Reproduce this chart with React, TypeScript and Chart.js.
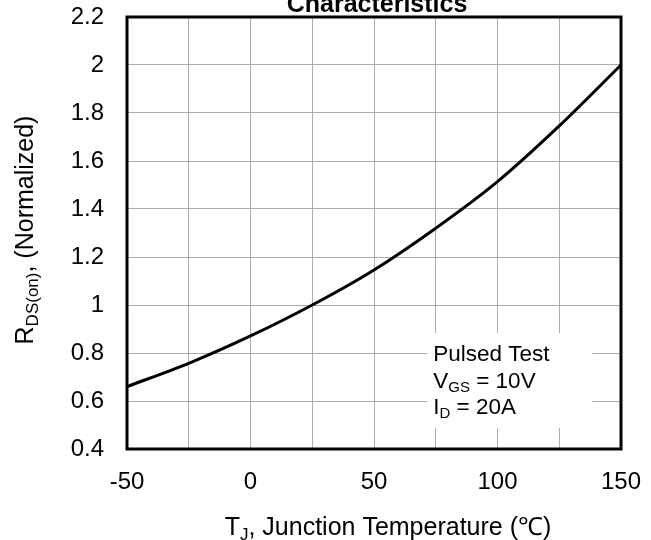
import { useEffect, useRef } from 'react';
import { Chart, registerables } from 'chart.js';

Chart.register(...registerables);

// ---- data ----
const temperatures = [-50, -25, 0, 25, 50, 75, 100, 125, 150];
const rdsNormalized = [0.66, 0.757, 0.871, 1.0, 1.146, 1.32, 1.514, 1.746, 2.0];
const xLabelValues = [-50, 0, 50, 100, 150];
const yMin = 0.4;
const yMax = 2.2;
const yStep = 0.2;
const xMin = -50;
const xMax = 150;
const xStep = 25;
const titleText = 'Characteristics';
const noteLine1 = 'Pulsed Test';
const noteLine2: [string, boolean][] = [['V', false], ['GS', true], [' = 10V', false]];
const noteLine3: [string, boolean][] = [['I', false], ['D', true], [' = 20A', false]];
const xTitleParts: [string, boolean][] = [['T', false], ['J', true], [', Junction Temperature (\u2103)', false]];
const yTitleParts: [string, boolean][] = [['R', false], ['DS(on)', true], [', (Normalized)', false]];

const FONT = '"Liberation Sans", Arial, Helvetica, sans-serif';

function measureParts(ctx: CanvasRenderingContext2D, parts: [string, boolean][], size: number, subSize: number) {
  let w = 0;
  for (const [t, sub] of parts) {
    ctx.font = `${sub ? subSize : size}px ${FONT}`;
    w += ctx.measureText(t).width;
  }
  return w;
}

function drawParts(
  ctx: CanvasRenderingContext2D,
  parts: [string, boolean][],
  x: number,
  y: number,
  size: number,
  subSize: number,
  subDy: number
) {
  let cx = x;
  for (const [t, sub] of parts) {
    ctx.font = `${sub ? subSize : size}px ${FONT}`;
    ctx.fillText(t, cx, sub ? y + subDy : y);
    cx += ctx.measureText(t).width;
  }
}

const decorPlugin = {
  id: 'decor',
  beforeDatasetsDraw(chart: any) {
    const ctx: CanvasRenderingContext2D = chart.ctx;
    const xs = chart.scales.x;
    const ys = chart.scales.y;
    // white note box (covers grid)
    const x0 = xs.getPixelForValue(71.5);
    const x1 = xs.getPixelForValue(138.3);
    const y0 = ys.getPixelForValue(0.883);
    const y1 = ys.getPixelForValue(0.4875);
    ctx.save();
    ctx.fillStyle = '#ffffff';
    ctx.fillRect(x0, y0, x1 - x0, y1 - y0);
    ctx.restore();
  },
  afterDraw(chart: any) {
    const ctx: CanvasRenderingContext2D = chart.ctx;
    const a = chart.chartArea;
    const xs = chart.scales.x;
    const ys = chart.scales.y;
    ctx.save();
    // frame
    ctx.strokeStyle = '#000000';
    ctx.lineWidth = 3;
    ctx.strokeRect(a.left, a.top, a.right - a.left, a.bottom - a.top);

    ctx.fillStyle = '#000000';
    ctx.textBaseline = 'alphabetic';
    ctx.textAlign = 'left';

    // title (cut off at top)
    ctx.font = `bold 25px ${FONT}`;
    ctx.textAlign = 'center';
    ctx.fillText(titleText, (a.left + a.right) / 2 + 3, 12);
    ctx.textAlign = 'left';

    // note
    const nx = xs.getPixelForValue(74);
    ctx.font = `22.5px ${FONT}`;
    ctx.fillText(noteLine1, nx, ys.getPixelForValue(0.768));
    drawParts(ctx, noteLine2, nx, ys.getPixelForValue(0.654), 22.5, 15, 4);
    drawParts(ctx, noteLine3, nx, ys.getPixelForValue(0.546), 22.5, 15, 4);

    // x title
    const xw = measureParts(ctx, xTitleParts, 25, 17);
    const xcx = (a.left + a.right) / 2 + 14;
    drawParts(ctx, xTitleParts, xcx - xw / 2, 535, 25, 17, 5);

    // y title
    const yw = measureParts(ctx, yTitleParts, 25, 17);
    ctx.translate(33, (a.top + a.bottom) / 2 - 3);
    ctx.rotate(-Math.PI / 2);
    drawParts(ctx, yTitleParts, -yw / 2, 0, 25, 17, 5);
    ctx.restore();
  },
};

export default function App() {
  const canvasRef = useRef<HTMLCanvasElement | null>(null);

  useEffect(() => {
    const canvas = canvasRef.current;
    if (!canvas) return;
    const chart = new Chart(canvas, {
      type: 'line',
      data: {
        datasets: [
          {
            data: temperatures.map((t, i) => ({ x: t, y: rdsNormalized[i] })),
            borderColor: '#000000',
            borderWidth: 3,
            pointRadius: 0,
            fill: false,
            cubicInterpolationMode: 'monotone',
          },
        ],
      },
      options: {
        animation: false,
        responsive: false,
        layout: { padding: { left: 0, top: 17, right: 30, bottom: 0 } },
        plugins: {
          legend: { display: false },
          title: { display: false },
          tooltip: { enabled: false },
        },
        scales: {
          x: {
            type: 'linear',
            min: xMin,
            max: xMax,
            grid: { color: '#acacac', lineWidth: 1, drawTicks: false },
            border: { display: false },
            ticks: {
              stepSize: xStep,
              padding: 19,
              color: '#000000',
              font: { family: FONT, size: 24 },
              autoSkip: false,
              maxRotation: 0,
              callback: (v: any) => (xLabelValues.includes(Number(v)) ? String(v) : ''),
            },
            afterFit: (s: any) => {
              s.height = 91;
              s.paddingLeft = 0;
              s.paddingRight = 0;
            },
          },
          y: {
            type: 'linear',
            min: yMin,
            max: yMax,
            grid: { color: '#acacac', lineWidth: 1, drawTicks: false },
            border: { display: false },
            ticks: {
              stepSize: yStep,
              padding: 23,
              color: '#000000',
              font: { family: FONT, size: 24 },
              callback: (v: any) => String(Number(Number(v).toFixed(1))),
            },
            afterFit: (s: any) => {
              s.width = 127;
              s.paddingTop = 0;
              s.paddingBottom = 0;
            },
          },
        },
      },
      plugins: [decorPlugin],
    } as any);
    return () => chart.destroy();
  }, []);

  return (
    <div style={{ position: 'fixed', left: 0, top: 0, width: 651, height: 540, background: '#fff' }}>
      <canvas ref={canvasRef} width={651} height={540} style={{ display: 'block' }} />
    </div>
  );
}
